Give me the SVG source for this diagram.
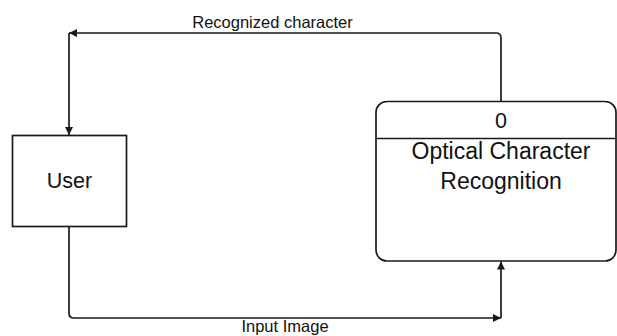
<svg xmlns="http://www.w3.org/2000/svg" width="617" height="336" viewBox="0 0 617 336">
  <defs>
    <marker id="arr" markerUnits="userSpaceOnUse" markerWidth="9" markerHeight="8" refX="8" refY="4" orient="auto">
      <path d="M0,0 L8,4 L0,8 z" fill="#1a1a1a"/>
    </marker>
    <style>
      .box { fill: #ffffff; stroke: #1a1a1a; stroke-width: 1.7; }
      .conn { fill: none; stroke: #1a1a1a; stroke-width: 1.7; marker-end: url(#arr); }
      .lbl { font-family: "Liberation Sans", Arial, sans-serif; fill: #111; text-anchor: middle; }
      .big { font-size: 21.5px; }
      .proc { font-size: 23px; }
      .small { font-size: 16.5px; }
    </style>
  </defs>
  <rect width="617" height="336" fill="#ffffff"/>

  <g id="connectors">
    <path class="conn" d="M501,101 V38 Q501,33 496,33 H69"/>
    <path class="conn" d="M69,33 V135"/>
    <path class="conn" d="M69,227 V313 Q69,318 74,318 H501"/>
    <path class="conn" d="M501,318 V261.5"/>
    <text class="lbl small" x="272.5" y="28">Recognized character</text>
    <text class="lbl small" x="285" y="332">Input Image</text>
  </g>

  <g id="user">
    <rect class="box" x="12.5" y="135.5" width="114" height="91"/>
    <text class="lbl big" x="69.5" y="188">User</text>
  </g>

  <g id="ocr">
    <rect class="box" x="376" y="101.5" width="240" height="159.5" rx="11" ry="11"/>
    <line x1="376" y1="138.5" x2="616" y2="138.5" stroke="#1a1a1a" stroke-width="1.7"/>
    <text class="lbl big" x="501" y="128">0</text>
    <text class="lbl proc" x="501" y="158.5">Optical Character</text>
    <text class="lbl proc" x="501" y="188.5">Recognition</text>
  </g>
</svg>
